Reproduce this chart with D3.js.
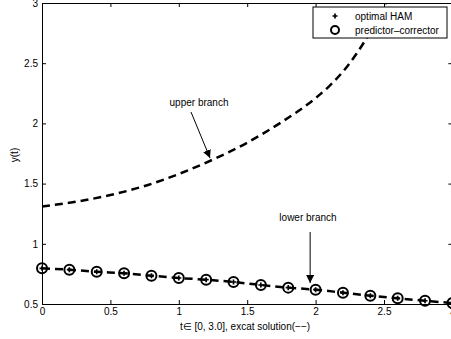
<!DOCTYPE html>
<html>
<head>
<meta charset="utf-8">
<script src="https://cdn.jsdelivr.net/npm/d3@7"></script>
<style>
  body { margin: 0; background: #fff; }
  text { font-family: "Liberation Sans", Arial, sans-serif; fill: #000; }
</style>
</head>
<body>
<script>
// upper branch (exact solution, dashed)
const upperT = [0, 0.25, 0.5, 0.75, 1.0, 1.25, 1.5, 1.75, 2.0, 2.1, 2.2, 2.3, 2.4, 2.5, 2.6]
const upperY = [1.31, 1.35, 1.405, 1.48, 1.58, 1.70, 1.84, 2.01, 2.21, 2.31, 2.43, 2.58, 2.76, 2.97, 3.22]

// lower branch, markers at every 0.2
const lowerT = [0, 0.2, 0.4, 0.6, 0.8, 1.0, 1.2, 1.4, 1.6, 1.8, 2.0, 2.2, 2.4, 2.6, 2.8, 3.0]
const lowerY = [0.796, 0.785, 0.768, 0.755, 0.735, 0.716, 0.702, 0.683, 0.658, 0.636, 0.619, 0.594, 0.569, 0.547, 0.527, 0.508]

const xTicks = [0, 0.5, 1, 1.5, 2, 2.5, 3]
const yTicks = [0.5, 1, 1.5, 2, 2.5, 3]
const legendLabels = ['optimal HAM', 'predictor\u2013corrector']

const w = 451
const h = 339
const mLeft = 42, mRight = 452.4, mTop = 3, mBottom = 304

const x = d3.scaleLinear().domain([0, 3]).range([mLeft, mRight])
const y = d3.scaleLinear().domain([0.5, 3]).range([mBottom, mTop])

const svg = d3.select('body')
    .append('svg')
    .attr('width', w)
    .attr('height', h)

svg.append('defs').append('clipPath')
    .attr('id', 'clip')
    .append('rect')
    .attr('x', mLeft).attr('y', mTop)
    .attr('width', mRight - mLeft).attr('height', mBottom - mTop)

// axes (ticks inside, on all four sides)
const fmt = d => String(d)
svg.append('g')
    .attr('transform', `translate(0,${mBottom})`)
    .call(d3.axisBottom(x).tickValues(xTicks).tickFormat(fmt).tickSizeInner(-4).tickSizeOuter(0).tickPadding(4))
svg.append('g')
    .attr('transform', `translate(0,${mTop})`)
    .call(d3.axisTop(x).tickValues(xTicks).tickFormat('').tickSizeInner(-4).tickSizeOuter(0))
svg.append('g')
    .attr('transform', `translate(${mLeft},0)`)
    .call(d3.axisLeft(y).tickValues(yTicks).tickFormat(fmt).tickSizeInner(-4).tickSizeOuter(0).tickPadding(4))
svg.append('g')
    .attr('transform', `translate(${mRight},0)`)
    .call(d3.axisRight(y).tickValues(yTicks).tickFormat('').tickSizeInner(-4).tickSizeOuter(0))

svg.selectAll('.domain').attr('stroke', '#000').attr('stroke-width', 1)
svg.selectAll('.tick line').attr('stroke', '#000')
svg.selectAll('.tick text').style('font-size', '10px')

const line = d3.line()
    .x(d => x(d[0]))
    .y(d => y(d[1]))
    .curve(d3.curveMonotoneX)

const plot = svg.append('g').attr('clip-path', 'url(#clip)')

plot.append('path')
    .datum(upperT.map((t, i) => [t, upperY[i]]))
    .attr('d', line)
    .attr('fill', 'none')
    .attr('stroke', '#000')
    .attr('stroke-width', 2.5)
    .attr('stroke-dasharray', '8,5')

const lowerData = lowerT.map((t, i) => [t, lowerY[i]])
plot.append('path')
    .datum(lowerData)
    .attr('d', line)
    .attr('fill', 'none')
    .attr('stroke', '#000')
    .attr('stroke-width', 2.5)
    .attr('stroke-dasharray', '8,5')

// predictor-corrector circles
svg.append('g')
    .selectAll('circle')
    .data(lowerData)
    .enter()
    .append('circle')
    .attr('cx', d => x(d[0]))
    .attr('cy', d => y(d[1]))
    .attr('r', 5)
    .attr('fill', 'none')
    .attr('stroke', '#000')
    .attr('stroke-width', 2)

// optimal HAM plus signs
const plus = d3.symbol().type(d3.symbolCross).size(14)
svg.append('g')
    .selectAll('path')
    .data(lowerData)
    .enter()
    .append('path')
    .attr('transform', d => `translate(${x(d[0])},${y(d[1])})`)
    .attr('d', plus)
    .attr('fill', '#000')

// annotations
const arrow = svg.append('defs').append('marker')
    .attr('id', 'arr')
    .attr('viewBox', '0 0 10 10')
    .attr('refX', 10).attr('refY', 5)
    .attr('markerWidth', 8).attr('markerHeight', 8)
    .attr('markerUnits', 'userSpaceOnUse')
    .attr('orient', 'auto')
arrow.append('path').attr('d', 'M0,0 L10,5 L0,10 Z').attr('fill', '#000')

svg.append('text')
    .attr('x', 199).attr('y', 106)
    .attr('text-anchor', 'middle')
    .style('font-size', '10px')
    .text('upper branch')
svg.append('line')
    .attr('x1', 191).attr('y1', 112)
    .attr('x2', 210).attr('y2', 158)
    .attr('stroke', '#000').attr('stroke-width', 1)
    .attr('marker-end', 'url(#arr)')

svg.append('text')
    .attr('x', 308).attr('y', 221)
    .attr('text-anchor', 'middle')
    .style('font-size', '10px')
    .text('lower branch')
svg.append('line')
    .attr('x1', x(1.96)).attr('y1', 232)
    .attr('x2', x(1.96)).attr('y2', 283)
    .attr('stroke', '#000').attr('stroke-width', 1)
    .attr('marker-end', 'url(#arr)')

// axis labels
svg.append('text')
    .attr('transform', 'translate(18,155) rotate(-90)')
    .attr('text-anchor', 'middle')
    .style('font-size', '10px')
    .text('y(t)')

svg.append('text')
    .attr('x', 245).attr('y', 330)
    .attr('text-anchor', 'middle')
    .style('font-size', '10px')
    .text('t\u2208 [0, 3.0], excat solution(\u2212\u2212)')

// legend
const lg = svg.append('g')
lg.append('rect')
    .attr('x', 313).attr('y', 7)
    .attr('width', 134).attr('height', 31)
    .attr('fill', '#fff')
    .attr('stroke', '#000')
    .attr('stroke-width', 1)
lg.append('path')
    .attr('transform', 'translate(335,16)')
    .attr('d', plus)
    .attr('fill', '#000')
lg.append('circle')
    .attr('cx', 335).attr('cy', 30)
    .attr('r', 4)
    .attr('fill', 'none')
    .attr('stroke', '#000')
    .attr('stroke-width', 2)
lg.selectAll('text.lab')
    .data(legendLabels)
    .enter()
    .append('text')
    .attr('class', 'lab')
    .attr('x', 355)
    .attr('y', (d, i) => 19.5 + i * 14)
    .style('font-size', '10px')
    .text(d => d)
</script>
</body>
</html>
